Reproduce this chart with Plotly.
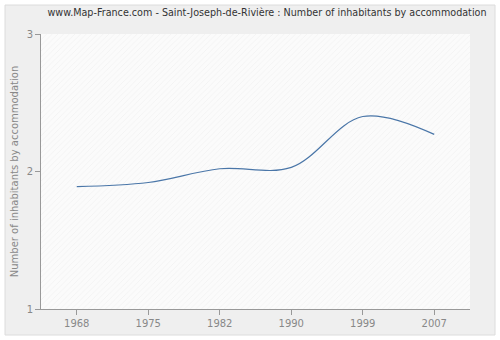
import plotly.graph_objects as go

years = ["1968", "1975", "1982", "1990", "1999", "2007"]
values = [1.89, 1.92, 2.02, 2.03, 2.40, 2.27]
y_ticks = [1, 2, 3]
title = "www.Map-France.com - Saint-Joseph-de-Rivière : Number of inhabitants by accommodation"
y_title = "Number of inhabitants by accommodation"

L, R, T, B = 41, 30, 34, 31
W, H = 500, 340
pw, ph = W - L - R, H - T - B

def px_x(p):
    return (p - L) / pw

def px_y(p):
    return (H - B - p) / ph

fig = go.Figure()

# hatched plot background
fig.add_trace(go.Bar(
    x=years, y=[2] * len(years), base=[1] * len(years), width=1,
    marker=dict(color="#fafafa", line=dict(width=0),
                pattern=dict(shape="/", fgcolor="#e6e6e6", bgcolor="#fbfbfb", size=4, solidity=0.2)),
    hoverinfo="skip", showlegend=False,
))

fig.add_trace(go.Scatter(
    x=years, y=values, mode="lines",
    line=dict(color="#4a76a8", width=1.2, shape="spline", smoothing=1.0),
    showlegend=False,
))

fig.add_shape(type="rect", xref="paper", yref="paper",
              x0=px_x(5), x1=px_x(495), y0=px_y(335), y1=px_y(5),
              fillcolor="#efefef", line=dict(color="#dcdcdc", width=1), layer="below")

fig.update_layout(
    width=W, height=H,
    margin=dict(l=L, r=R, t=T, b=B),
    paper_bgcolor="white",
    plot_bgcolor="#fafafa",
    bargap=0,
    font=dict(family="DejaVu Sans", size=10, color="#888"),
    title=dict(text=title, x=(267) / W, xanchor="center", xref="paper" if False else "container",
               y=1 - 13 / H, yanchor="middle",
               font=dict(family="DejaVu Sans", size=9.6, color="#333")),
    xaxis=dict(type="category", range=[-0.5, 5.5],
               showgrid=True, gridcolor="#e2e2e2", griddash="dash", gridwidth=1,
               showline=True, linecolor="#999", linewidth=1,
               ticks="outside", ticklen=5, tickcolor="#999",
               tickfont=dict(size=10, color="#888"), fixedrange=True),
    yaxis=dict(range=[1, 3], tickvals=y_ticks, ticktext=[str(v) for v in y_ticks],
               showgrid=True, gridcolor="#e2e2e2", griddash="dash", gridwidth=1,
               showline=True, linecolor="#999", linewidth=1,
               ticks="outside", ticklen=5, tickcolor="#999", zeroline=False,
               tickfont=dict(size=10, color="#888"),
               title=dict(text=y_title, font=dict(size=10, color="#888"), standoff=6)),
)

fig.write_html("out.html")
